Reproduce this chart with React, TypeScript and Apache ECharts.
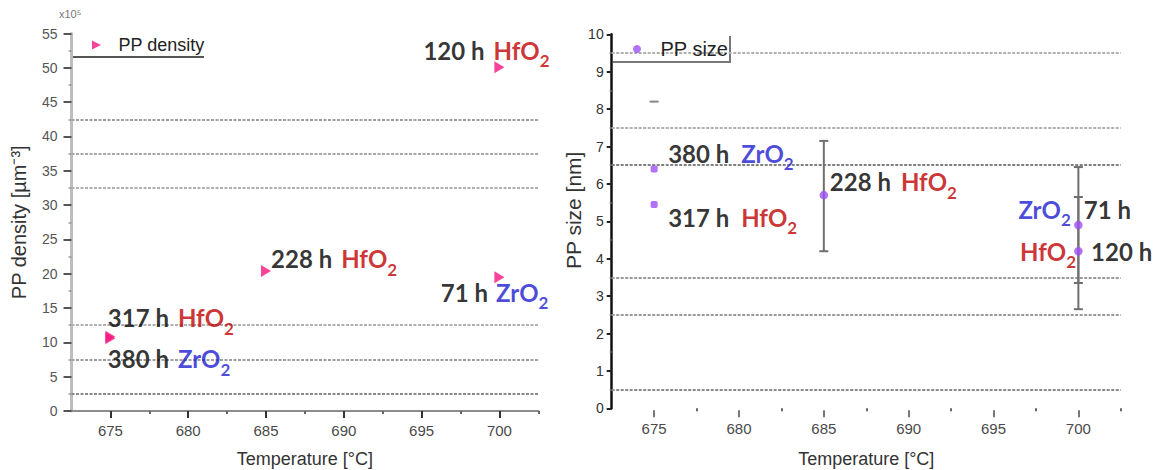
import React, { useEffect, useRef } from 'react';
import * as echarts from 'echarts';

// ---------- data ----------
const xTickValues = [675, 680, 685, 690, 695, 700];
const xMinorTickValues = [677.5, 682.5, 687.5, 692.5, 697.5, 702.5];

const densityTemps = [675, 675, 685, 700, 700];
const densityValues = [10.8, 10.6, 20.4, 50.1, 19.5];
const densityHours = ['317 h', '380 h', '228 h', '120 h', '71 h'];
const densityOxides = ['HfO', 'ZrO', 'HfO', 'HfO', 'ZrO'];
const densityGridValues = [2.5, 7.5, 12.5, 32.5, 37.5, 42.5];

const sizeTemps = [675, 675, 685, 700, 700];
const sizeValues = [6.4, 5.45, 5.7, 4.9, 4.2];
const sizeHours = ['380 h', '317 h', '228 h', '71 h', '120 h'];
const sizeOxides = ['ZrO', 'HfO', 'HfO', 'ZrO', 'HfO'];
const sizeErrLow = [null, null, 4.2, 3.35, 2.65];
const sizeErrHigh = [null, null, 7.15, 6.45, 5.65];
const sizeCapTemps = [675];
const sizeCapValues = [8.2];
const sizeGridValues = [0.5, 2.5, 3.5, 6.5, 7.5, 9.5];

// ---------- layout / styles ----------
const densityLabelLayout = [
  { dx: -2.6, dy: -30.9, gap: 9, oxideFirst: false },
  { dx: -2.6, dy: 8.3, gap: 9, oxideFirst: false },
  { dx: 5.1, dy: -24, gap: 9, oxideFirst: false },
  { dx: -76, dy: -28.8, gap: 9, oxideFirst: false },
  { dx: -58.6, dy: 3, gap: 8, oxideFirst: false },
];
const sizeLabelLayout = [
  { dx: 14, dy: -27.5, gap: 12, oxideFirst: false },
  { dx: 14, dy: 1, gap: 12, oxideFirst: false },
  { dx: 6, dy: -25.6, gap: 10, oxideFirst: false },
  { dx: -60, dy: -28, gap: 13, oxideFirst: true },
  { dx: -58.3, dy: -12.2, gap: 15, oxideFirst: true },
];
const densityGridColors = ['#8a8a8a', '#a0a0a0', '#b0b0b0', '#b0b0b0', '#a8a8a8', '#a0a0a0'];
const sizeGridColors = ['#8a8a8a', '#9a9a9a', '#9a9a9a', '#808080', '#b0b0b0', '#b0b0b0'];

const RED = '#c00000';
const BLUE = '#1c1cd0';
const ANN_FONT = 'Lato, "Open Sans", sans-serif';
const AXIS_FONT = '"Liberation Sans", Arial, sans-serif';

function makeLabel(hours: string, oxide: string, lay: any) {
  const col = oxide === 'HfO' ? RED : BLUE;
  const base = { fontFamily: ANN_FONT, fontWeight: 'bold', fontSize: 24, verticalAlign: 'top' };
  const rich = {
    h: { ...base, color: '#000' },
    o: { ...base, color: col },
    s: {
      fontFamily: ANN_FONT,
      fontWeight: 'bold',
      fontSize: 17,
      verticalAlign: 'top',
      padding: [14, 0, 0, 0],
      color: col,
    },
    g: { ...base, width: lay.gap, color: '#000' },
  };
  const formatter = lay.oxideFirst
    ? `{o|${oxide}}{s|2}{g| }{h|${hours}}`
    : `{h|${hours}}{g| }{o|${oxide}}{s|2}`;
  return {
    show: true,
    position: 'inside',
    align: 'left',
    verticalAlign: 'top',
    offset: [lay.dx, lay.dy],
    formatter,
    rich,
    color: '#000',
    textBorderWidth: 0,
  };
}

function gridMarkLine(values: number[], colors: string[]) {
  return {
    silent: true,
    symbol: ['none', 'none'],
    label: { show: false },
    z: 1,
    data: values.map((v, i) => ({
      yAxis: v,
      lineStyle: { color: colors[i], width: 2, type: [3, 1.5] },
    })),
  };
}

export default function App() {
  const ref = useRef<HTMLDivElement>(null);

  useEffect(() => {
    if (!ref.current) return;
    const chart = echarts.init(ref.current, undefined, { renderer: 'svg' });

    const densityData = densityTemps.map((t, i) => ({
      value: [t, densityValues[i]],
      label: makeLabel(densityHours[i], densityOxides[i], densityLabelLayout[i]),
    }));
    const sizeData = sizeTemps.map((t, i) => ({
      value: [t, sizeValues[i]],
      symbol: t === 675 ? 'roundRect' : 'circle',
      symbolSize: t === 675 ? 7 : 8.5,
      label: makeLabel(sizeHours[i], sizeOxides[i], sizeLabelLayout[i]),
    }));
    const errData = sizeTemps
      .map((t, i) => (sizeErrLow[i] == null ? null : [t, sizeErrLow[i], sizeErrHigh[i]]))
      .filter((d) => d != null);
    const capData = sizeCapTemps.map((t, i) => [t, sizeCapValues[i]]);

    const xMain = (grid: number, axisLineShow: boolean, margin: number, nameGap: number, offset: number) => ({
      gridIndex: grid,
      type: 'value',
      min: 672.5,
      max: 702.5,
      position: 'bottom',
      offset,
      axisLine: { show: axisLineShow, onZero: false, lineStyle: { color: '#8c8c8c', width: 2 } },
      axisTick: { show: true, customValues: xTickValues, length: 7, lineStyle: { color: axisLineShow ? '#333' : '#777', width: 2 } },
      axisLabel: { customValues: xTickValues, margin, fontSize: 15, color: '#4a4a4a', fontFamily: AXIS_FONT },
      splitLine: { show: false },
      name: 'Temperature [°C]',
      nameLocation: 'middle',
      nameGap,
      nameTextStyle: { fontSize: 18, color: '#333', fontFamily: AXIS_FONT },
    });
    const xMinor = (grid: number, offset: number) => ({
      gridIndex: grid,
      type: 'value',
      min: 672.5,
      max: 702.5,
      position: 'bottom',
      offset,
      axisLine: { show: false },
      axisTick: { show: true, customValues: xMinorTickValues, length: 3, lineStyle: { color: '#666', width: 2 } },
      axisLabel: { show: false },
      splitLine: { show: false },
    });

    chart.setOption({
      animation: false,
      backgroundColor: '#ffffff',
      textStyle: { fontFamily: AXIS_FONT },
      grid: [
        { left: 71.5, top: 33.5, width: 466.8, height: 377.5, containLabel: false, outerBoundsMode: 'none' },
        { left: 611.7, top: 34.3, width: 509.1, height: 374, containLabel: false, outerBoundsMode: 'none' },
      ],
      legend: [
        {
          data: ['PP density'],
          left: 92,
          top: 36,
          padding: 0,
          itemWidth: 34,
          itemHeight: 9,
          selectedMode: false,
          textStyle: { fontSize: 18, color: '#222', fontFamily: AXIS_FONT },
        },
        {
          data: ['PP size'],
          left: 633,
          top: 39,
          padding: 0,
          itemWidth: 37,
          itemHeight: 8,
          selectedMode: false,
          textStyle: { fontSize: 20, color: '#222', fontFamily: AXIS_FONT },
        },
      ],
      xAxis: [xMain(0, true, 12, 38.5, 0), xMain(1, false, 11, 40, 2), xMinor(0, 0), xMinor(1, 2)],
      yAxis: [
        {
          gridIndex: 0,
          type: 'value',
          min: 0,
          max: 55,
          interval: 5,
          axisLine: { show: true, lineStyle: { color: '#bdbdbd', width: 3 } },
          axisTick: { show: true, length: 8, lineStyle: { color: '#555', width: 2 } },
          minorTick: { show: true, splitNumber: 2, length: 3, lineStyle: { color: '#999', width: 1.5 } },
          axisLabel: { margin: 14, fontSize: 14, color: '#555', fontFamily: AXIS_FONT },
          splitLine: { show: false },
          name: 'PP density [µm⁻³]',
          nameLocation: 'middle',
          nameGap: 43,
          nameTextStyle: { fontSize: 20, color: '#333', fontFamily: AXIS_FONT },
        },
        {
          gridIndex: 1,
          type: 'value',
          min: 0,
          max: 10,
          interval: 1,
          axisLine: { show: true, lineStyle: { color: '#111', width: 2.5 } },
          axisTick: { show: true, length: 5, lineStyle: { color: '#222', width: 2 } },
          minorTick: { show: true, splitNumber: 2, length: 2, lineStyle: { color: '#777', width: 1.5 } },
          axisLabel: { margin: 8, fontSize: 14, color: '#333', fontFamily: AXIS_FONT },
          splitLine: { show: false },
          name: 'PP size [nm]',
          nameLocation: 'middle',
          nameGap: 25,
          nameTextStyle: { fontSize: 21, color: '#333', fontFamily: AXIS_FONT, padding: [0, 0, 0, 22] },
        },
      ],
      series: [
        {
          name: 'PP density',
          type: 'scatter',
          xAxisIndex: 0,
          yAxisIndex: 0,
          symbol: 'path://M0,0L10,5L0,10Z',
          symbolSize: [10, 12],
          itemStyle: { color: '#f5157f' },
          data: densityData,
          z: 3,
          markLine: gridMarkLine(densityGridValues, densityGridColors),
        },
        {
          name: 'size error',
          type: 'custom',
          xAxisIndex: 1,
          yAxisIndex: 1,
          silent: true,
          z: 2,
          encode: { x: 0, y: [1, 2] },
          data: errData,
          renderItem: (params: any, api: any) => {
            const x = api.value(0);
            const lo = api.coord([x, api.value(1)]);
            const hi = api.coord([x, api.value(2)]);
            const w = 4.5;
            const st = { stroke: '#6f6f6f', lineWidth: 2 };
            return {
              type: 'group',
              children: [
                { type: 'line', shape: { x1: lo[0], y1: lo[1], x2: hi[0], y2: hi[1] }, style: st },
                { type: 'line', shape: { x1: lo[0] - w, y1: lo[1], x2: lo[0] + w, y2: lo[1] }, style: st },
                { type: 'line', shape: { x1: hi[0] - w, y1: hi[1], x2: hi[0] + w, y2: hi[1] }, style: st },
              ],
            };
          },
        },
        {
          name: 'size cap',
          type: 'scatter',
          xAxisIndex: 1,
          yAxisIndex: 1,
          symbol: 'rect',
          symbolSize: [9, 2],
          itemStyle: { color: '#666' },
          silent: true,
          data: capData,
          z: 2,
        },
        {
          name: 'PP size',
          type: 'scatter',
          xAxisIndex: 1,
          yAxisIndex: 1,
          symbol: 'circle',
          symbolSize: 8.5,
          itemStyle: { color: '#9d4ff5' },
          data: sizeData,
          z: 3,
          markLine: gridMarkLine(sizeGridValues, sizeGridColors),
        },
      ],
      graphic: [
        { type: 'line', shape: { x1: 70, y1: 57, x2: 204, y2: 57 }, style: { stroke: '#555', lineWidth: 2 } },
        {
          type: 'polyline',
          shape: { points: [[613, 62], [730, 62], [730, 36]] },
          style: { stroke: '#777', lineWidth: 2, fill: null },
        },
        {
          type: 'text',
          left: 59,
          top: 8,
          style: { text: 'x10⁵', fontSize: 11, fill: '#777', fontFamily: AXIS_FONT },
        },
      ],
    });

    return () => {
      chart.dispose();
    };
  }, []);

  return (
    <div
      ref={ref}
      style={{ position: 'fixed', left: 0, top: 0, width: 1153, height: 470, background: '#fff' }}
    />
  );
}
